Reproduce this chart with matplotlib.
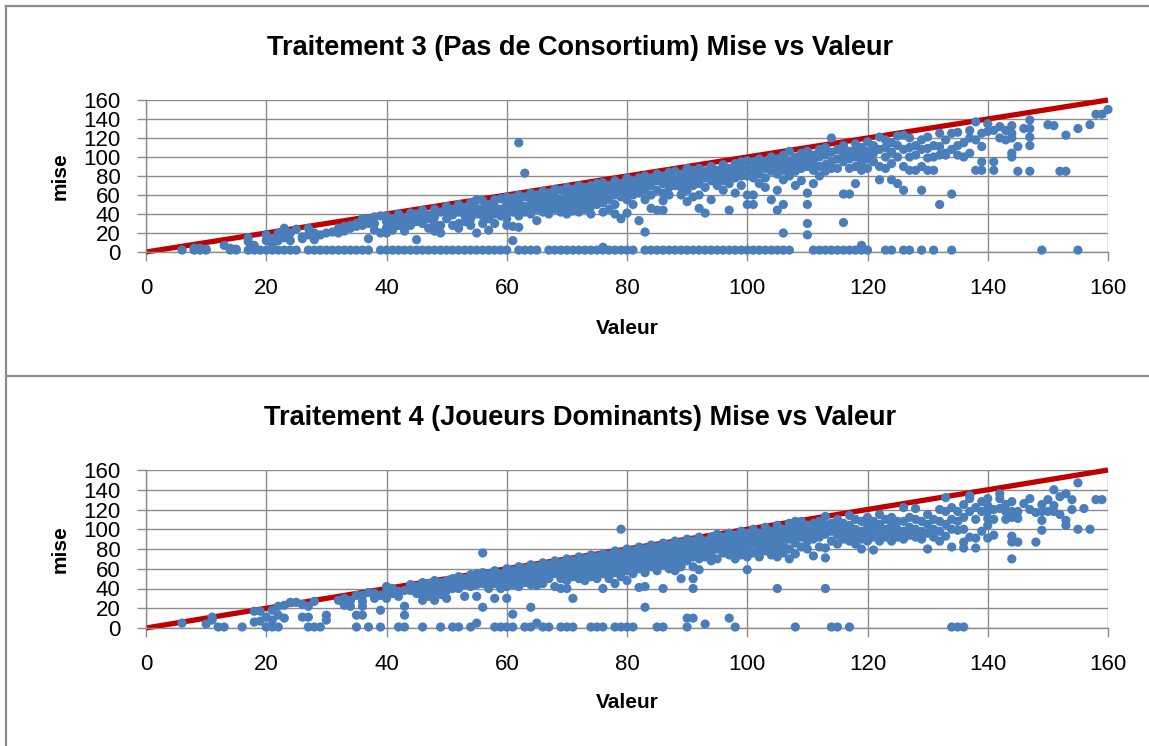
import matplotlib
matplotlib.use("Agg")
import matplotlib.pyplot as plt
from matplotlib.lines import Line2D

plt.rcParams['font.family'] = ['Liberation Sans', 'DejaVu Sans']

# ---------------- Traitement 3 (Pas de Consortium) ----------------
# valeurs where the bid (mise) was zero
t3_zero_valeur = [6, 8, 9, 10, 14, 15, 17, 18, 19, 20, 21, 22, 23, 24, 25, 27, 28, 29, 30,
                  31, 32, 33, 34, 35, 36, 37, 39, 40, 41, 42, 43, 44, 45, 46, 47, 48, 49,
                  50, 51, 52, 53, 54, 55, 56, 57, 58, 59, 60, 62, 63, 64, 65, 67, 68, 69,
                  70, 71, 72, 73, 74, 75, 76, 77, 78, 79, 80, 81, 83, 84, 85, 86, 87, 88,
                  89, 90, 91, 92, 93, 94, 95, 96, 97, 98, 99, 100, 101, 102, 103, 104, 105,
                  106, 107, 111, 112, 113, 114, 115, 116, 117, 118, 119, 120, 123, 124,
                  126, 127, 129, 131, 134, 149, 155]
t3_zero_mise = 2

# (valeur, mise) pairs
t3_low = [(8, 4), (9, 4), (10, 3), (13, 7), (14, 4), (15, 3), (17, 15), (17, 11), (18, 7),
          (20, 18), (20, 12), (21, 14), (21, 8), (22, 20), (22, 12), (23, 25), (23, 15),
          (24, 20), (24, 12), (25, 24), (26, 16), (26, 14), (27, 25), (27, 18), (28, 13),
          (28, 20), (29, 18), (30, 20), (31, 21), (32, 25), (32, 20), (33, 27), (33, 22),
          (34, 28), (34, 25), (35, 30), (35, 27), (36, 35), (36, 28), (37, 35), (37, 30),
          (37, 14), (38, 37), (38, 30), (38, 23), (39, 38), (39, 20), (40, 38), (40, 32),
          (40, 25), (40, 20), (41, 35), (41, 30), (41, 23), (42, 40), (42, 33), (42, 28),
          (43, 36), (43, 30), (43, 22), (44, 41), (44, 35), (44, 28), (45, 40), (45, 32),
          (45, 13), (46, 44), (46, 38), (46, 30), (47, 39), (47, 35), (47, 25), (48, 45),
          (48, 37), (48, 30), (48, 22), (49, 42), (49, 28), (49, 20), (50, 48), (50, 41),
          (50, 35), (51, 45), (51, 39), (51, 28), (52, 50), (52, 42), (52, 30), (52, 25),
          (53, 47), (53, 39), (53, 32), (54, 52), (54, 44), (54, 35), (54, 28), (55, 55),
          (55, 46), (55, 40), (55, 20), (56, 54), (56, 45), (56, 38), (56, 30), (57, 50),
          (57, 42), (57, 35), (57, 23), (58, 55), (58, 48), (58, 40), (58, 30), (59, 56),
          (59, 45), (59, 38)]

t3_mid = [(60, 58), (60, 50), (60, 44), (60, 35), (60, 28), (61, 57), (61, 50), (61, 42),
          (61, 27), (61, 12), (62, 115), (62, 60), (62, 52), (62, 45), (62, 38), (62, 26),
          (63, 83), (63, 58), (63, 48), (63, 42), (64, 62), (64, 55), (64, 48), (64, 40),
          (65, 60), (65, 52), (65, 45), (65, 33), (66, 64), (66, 55), (66, 50), (66, 42),
          (67, 62), (67, 56), (67, 48), (67, 40), (68, 66), (68, 58), (68, 50), (68, 45),
          (69, 65), (69, 55), (69, 48), (69, 42), (70, 68), (70, 60), (70, 52), (70, 45),
          (70, 40), (71, 66), (71, 58), (71, 50), (71, 43), (72, 70), (72, 62), (72, 55),
          (72, 48), (72, 42), (73, 68), (73, 60), (73, 52), (73, 45), (74, 70), (74, 63),
          (74, 55), (74, 48), (74, 40), (75, 72), (75, 65), (75, 58), (75, 50), (76, 73),
          (76, 66), (76, 60), (76, 52), (76, 42), (76, 5), (77, 70), (77, 62), (77, 55),
          (77, 45), (78, 75), (78, 68), (78, 60), (78, 50), (78, 40), (79, 72), (79, 65),
          (79, 58), (79, 35), (80, 78), (80, 70), (80, 62), (80, 55), (80, 41), (81, 75),
          (81, 68), (81, 60), (81, 50), (82, 78), (82, 70), (82, 62), (82, 33), (83, 80),
          (83, 72), (83, 65), (83, 55), (83, 21), (84, 78), (84, 70), (84, 60), (84, 46),
          (85, 82), (85, 75), (85, 65), (85, 44), (86, 80), (86, 72), (86, 62), (86, 54),
          (86, 44), (87, 84), (87, 76), (87, 68), (87, 60), (88, 85), (88, 78), (88, 70),
          (89, 82), (89, 75), (89, 68), (89, 60), (90, 88), (90, 80), (90, 72), (90, 65),
          (90, 53), (91, 86), (91, 78), (91, 70), (91, 58), (92, 88), (92, 80), (92, 72),
          (92, 60), (92, 46), (93, 85), (93, 78), (93, 68), (93, 41), (94, 90), (94, 82),
          (94, 75), (94, 55), (95, 86), (95, 78), (95, 70), (96, 92), (96, 84), (96, 75),
          (96, 65), (97, 88), (97, 80), (97, 72), (97, 44), (98, 93), (98, 85), (98, 78),
          (98, 62), (99, 95), (99, 88), (99, 80), (99, 70), (100, 96), (100, 88), (100, 80),
          (100, 60), (100, 50), (101, 95), (101, 86), (101, 78), (101, 60), (101, 50),
          (102, 98), (102, 90), (102, 82), (102, 72), (103, 95), (103, 88), (103, 78),
          (103, 68), (104, 100), (104, 92), (104, 85), (104, 55), (105, 98), (105, 90),
          (105, 82), (105, 65), (105, 44), (106, 102), (106, 94), (106, 86), (106, 76),
          (106, 50), (106, 20), (107, 106), (107, 96), (107, 88), (107, 80), (108, 100),
          (108, 92), (108, 85), (108, 70), (109, 104), (109, 96), (109, 88), (109, 75)]

t3_high = [(110, 106), (110, 98), (110, 90), (110, 62), (110, 50), (110, 30), (110, 18),
           (111, 102), (111, 94), (111, 86), (111, 72), (112, 108), (112, 100), (112, 90),
           (112, 80), (113, 110), (113, 102), (113, 92), (113, 85), (114, 120), (114, 105),
           (114, 95), (114, 88), (115, 108), (115, 98), (115, 88), (116, 112), (116, 104),
           (116, 95), (116, 61), (116, 31), (117, 106), (117, 98), (117, 88), (117, 61),
           (118, 114), (118, 108), (118, 100), (118, 90), (118, 72), (119, 110), (119, 102),
           (119, 94), (119, 86), (119, 7), (120, 116), (120, 106), (120, 98), (120, 88),
           (121, 112), (121, 104), (121, 95), (122, 121), (122, 108), (122, 90), (122, 76),
           (123, 118), (123, 110), (123, 100), (123, 88), (124, 115), (124, 105), (124, 93),
           (124, 76), (125, 122), (125, 112), (125, 100), (125, 72), (126, 123), (126, 108),
           (126, 90), (126, 65), (127, 120), (127, 110), (127, 100), (127, 86), (128, 112),
           (128, 102), (128, 86), (129, 118), (129, 108), (129, 90), (129, 65), (130, 121),
           (130, 109), (130, 99), (130, 86), (131, 112), (131, 100), (131, 86), (132, 125),
           (132, 111), (132, 102), (132, 50), (133, 118), (133, 104), (133, 102), (134, 125),
           (134, 108), (134, 61), (135, 126), (135, 112), (135, 102), (136, 115), (136, 100),
           (137, 128), (137, 120), (137, 104), (138, 137), (138, 118), (138, 86), (139, 125),
           (139, 111), (139, 95), (139, 86), (140, 135), (140, 127), (141, 128), (141, 95),
           (141, 86), (142, 132), (142, 120), (143, 128), (143, 118), (144, 133), (144, 125),
           (144, 120), (144, 104), (144, 100), (145, 111), (145, 85), (146, 130), (147, 139),
           (147, 130), (147, 121), (147, 112), (147, 85), (150, 134), (151, 133), (152, 85),
           (153, 123), (153, 85), (155, 130), (157, 134), (158, 145), (159, 145), (160, 150)]

# ---------------- Traitement 4 (Joueurs Dominants) ----------------
t4_zero_valeur = [12, 13, 16, 20, 21, 22, 27, 28, 29, 35, 37, 39, 42, 43, 46, 49, 51, 52,
                  54, 58, 59, 60, 61, 63, 64, 66, 67, 69, 70, 71, 74, 75, 76, 78, 79, 80,
                  81, 85, 86, 90, 98, 108, 114, 115, 117, 134, 135, 136]
t4_zero_mise = 1

t4_low = [(6, 5), (10, 4), (11, 11), (11, 8), (18, 17), (19, 17), (18, 6), (19, 7),
          (20, 11), (21, 8), (21, 18), (22, 22), (22, 13), (23, 23), (23, 10), (24, 26),
          (25, 26), (26, 24), (26, 11), (27, 22), (27, 11), (28, 27), (30, 13), (30, 8),
          (32, 28), (33, 30), (33, 23), (34, 28), (34, 22), (35, 13), (35, 33), (36, 13),
          (36, 27), (36, 22), (36, 33), (37, 36), (38, 30), (38, 35), (39, 33), (39, 18),
          (40, 42), (40, 37), (40, 30), (41, 40), (41, 35), (42, 37), (42, 32), (43, 38),
          (43, 22), (43, 13), (44, 44), (44, 38), (45, 42), (45, 35), (46, 46), (46, 40),
          (46, 33), (46, 28), (47, 45), (47, 40), (47, 32), (48, 48), (48, 42), (48, 36),
          (48, 28), (49, 46), (49, 40), (49, 34), (50, 48), (50, 44), (50, 38), (50, 30),
          (51, 50), (51, 45), (51, 40), (52, 52), (52, 46), (52, 40), (53, 50), (53, 44),
          (53, 32), (54, 54), (54, 48), (54, 42), (55, 55), (55, 50), (55, 44), (55, 32),
          (55, 5), (56, 76), (56, 56), (56, 50), (56, 45), (56, 21), (57, 55), (57, 48),
          (57, 40), (58, 58), (58, 52), (58, 45), (58, 30), (59, 55), (59, 48), (59, 40)]

t4_mid = [(60, 60), (60, 54), (60, 48), (60, 42), (60, 30), (61, 58), (61, 50), (61, 44),
          (61, 14), (62, 62), (62, 56), (62, 48), (62, 42), (63, 60), (63, 54), (63, 46),
          (64, 64), (64, 58), (64, 50), (64, 44), (64, 21), (65, 62), (65, 55), (65, 48),
          (65, 43), (65, 5), (66, 66), (66, 60), (66, 52), (66, 45), (67, 64), (67, 56),
          (67, 50), (68, 68), (68, 62), (68, 55), (68, 42), (69, 66), (69, 58), (69, 50),
          (69, 40), (70, 70), (70, 64), (70, 56), (70, 48), (70, 40), (71, 68), (71, 60),
          (71, 52), (71, 30), (72, 72), (72, 66), (72, 58), (72, 50), (73, 70), (73, 62),
          (73, 55), (73, 48), (74, 74), (74, 68), (74, 60), (74, 52), (75, 72), (75, 65),
          (75, 58), (75, 50), (76, 75), (76, 70), (76, 62), (76, 55), (76, 40), (77, 74),
          (77, 66), (77, 58), (77, 50), (78, 78), (78, 72), (78, 64), (78, 56), (78, 45),
          (79, 100), (79, 76), (79, 68), (79, 60), (79, 52), (80, 80), (80, 74), (80, 66),
          (80, 58), (80, 48), (81, 78), (81, 70), (81, 62), (81, 55), (82, 82), (82, 75),
          (82, 68), (82, 60), (82, 41), (83, 80), (83, 72), (83, 64), (83, 56), (83, 42),
          (83, 21), (84, 84), (84, 78), (84, 70), (84, 62), (85, 82), (85, 74), (85, 66),
          (85, 58), (86, 86), (86, 80), (86, 72), (86, 64), (86, 40), (87, 84), (87, 76),
          (87, 68), (87, 60), (88, 88), (88, 82), (88, 74), (88, 66), (88, 58), (89, 86),
          (89, 78), (89, 70), (89, 62), (89, 50), (90, 90), (90, 84), (90, 76), (90, 68),
          (90, 10), (91, 88), (91, 80), (91, 72), (91, 62), (91, 50), (91, 40), (91, 10),
          (92, 92), (92, 86), (92, 78), (92, 70), (92, 59), (93, 88), (93, 80), (93, 72),
          (93, 4), (94, 92), (94, 84), (94, 76), (94, 68), (95, 95), (95, 88), (95, 80),
          (95, 70), (96, 92), (96, 84), (96, 76), (97, 96), (97, 90), (97, 82), (97, 74),
          (97, 10), (98, 94), (98, 86), (98, 78), (98, 70), (99, 98), (99, 90), (99, 82),
          (99, 74), (100, 96), (100, 88), (100, 80), (100, 72), (100, 59), (101, 100),
          (101, 92), (101, 85), (101, 76), (102, 96), (102, 88), (102, 80), (102, 72),
          (103, 102), (103, 94), (103, 86), (103, 78), (104, 98), (104, 90), (104, 82),
          (104, 74), (105, 104), (105, 96), (105, 88), (105, 80), (105, 72), (105, 40),
          (106, 100), (106, 92), (106, 84), (106, 76), (107, 106), (107, 98), (107, 90),
          (107, 80), (107, 70), (108, 108), (108, 102), (108, 94), (108, 86), (108, 75),
          (109, 108), (109, 100), (109, 92), (109, 82)]

t4_high = [(110, 104), (110, 96), (110, 88), (110, 80), (111, 106), (111, 98), (111, 90),
           (111, 73), (112, 108), (112, 100), (112, 92), (112, 82), (113, 113), (113, 104),
           (113, 95), (113, 81), (113, 71), (113, 40), (114, 106), (114, 98), (114, 88),
           (115, 110), (115, 102), (115, 94), (115, 85), (116, 106), (116, 98), (116, 90),
           (117, 114), (117, 104), (117, 95), (117, 88), (118, 110), (118, 100), (118, 92),
           (118, 85), (119, 108), (119, 98), (119, 90), (119, 80), (120, 112), (120, 104),
           (120, 96), (120, 88), (121, 108), (121, 100), (121, 92), (121, 79), (122, 115),
           (122, 105), (122, 96), (122, 88), (123, 110), (123, 100), (123, 92), (124, 112),
           (124, 104), (124, 95), (124, 88), (125, 108), (125, 100), (125, 92), (126, 122),
           (126, 108), (126, 98), (126, 90), (127, 112), (127, 102), (127, 94), (128, 121),
           (128, 110), (128, 100), (128, 92), (129, 108), (129, 98), (129, 90), (130, 115),
           (130, 105), (130, 96), (130, 80), (131, 110), (131, 100), (131, 92), (132, 120),
           (132, 108), (132, 98), (132, 88), (133, 132), (133, 118), (133, 105), (133, 93),
           (134, 122), (134, 110), (134, 100), (134, 82), (135, 118), (135, 108), (135, 99),
           (136, 125), (136, 112), (136, 100), (136, 87), (136, 81), (137, 134), (137, 131),
           (137, 118), (137, 92), (138, 122), (138, 110), (138, 91), (138, 81), (139, 128),
           (139, 118), (139, 98), (140, 131), (140, 124), (140, 118), (140, 111), (140, 104),
           (140, 91), (141, 120), (141, 110), (141, 94), (142, 136), (142, 131), (142, 121),
           (143, 125), (143, 118), (143, 110), (144, 128), (144, 118), (144, 112), (144, 93),
           (144, 87), (144, 70), (145, 118), (145, 111), (145, 87), (146, 126), (147, 131),
           (147, 120), (148, 117), (148, 87), (149, 125), (149, 118), (149, 109), (149, 99),
           (150, 130), (150, 118), (151, 140), (151, 124), (151, 118), (152, 133), (152, 115),
           (153, 136), (153, 109), (153, 104), (154, 130), (154, 120), (155, 147), (155, 100),
           (156, 121), (157, 100), (158, 130), (159, 130)]

panels = [
    ("Traitement 3 (Pas de Consortium) Mise vs Valeur",
     t3_zero_valeur, t3_zero_mise, t3_low + t3_mid + t3_high),
    ("Traitement 4 (Joueurs Dominants) Mise vs Valeur",
     t4_zero_valeur, t4_zero_mise, t4_low + t4_mid + t4_high),
]

ticks = [0, 20, 40, 60, 80, 100, 120, 140, 160]

W, H = 1149, 746
fig = plt.figure(figsize=(W / 100, H / 100), dpi=100)

# axes boxes in pixel units: left, top, right, bottom
boxes = [(146, 100, 1108, 252), (146, 470, 1108, 628)]
title_y = [48, 418]
xlabel_y = [328, 703]

grey = '#8c8c8c'
blue = '#4a7ebb'
red = '#c00000'

for (title, zx, zy, pts), (l, t, r, b), ty, xy in zip(panels, boxes, title_y, xlabel_y):
    ax = fig.add_axes([l / W, 1 - b / H, (r - l) / W, (b - t) / H])
    ax.set_xlim(0, 160)
    ax.set_ylim(0, 160)
    ax.set_xticks(ticks)
    ax.set_yticks(ticks)
    ax.grid(True, color=grey, linewidth=1.0, zorder=0)
    ax.set_axisbelow(True)
    for side in ('top', 'right'):
        ax.spines[side].set_visible(False)
    for side in ('left', 'bottom'):
        ax.spines[side].set_color(grey)
        ax.spines[side].set_linewidth(1.0)
    ax.tick_params(axis='both', direction='out', length=6.5, width=1.0, color=grey,
                   labelsize=16, labelcolor='black')
    ax.tick_params(axis='x', pad=12)
    ax.tick_params(axis='y', pad=12)

    # diagonal mise = valeur
    ax.plot([0, 160], [0, 160], color=red, linewidth=3.8, solid_capstyle='butt',
            zorder=2, clip_on=False)

    vx = [p[0] for p in pts] + list(zx)
    vy = [p[1] for p in pts] + [zy] * len(zx)
    ax.scatter(vx, vy, s=44, color=blue, edgecolors='none', zorder=3, clip_on=False)

    cx = (l + r) / 2 / W
    fig.text(0.5052, 1 - ty / H, title, ha='center', va='center', fontsize=19.5,
             fontweight='bold')
    fig.text(cx, 1 - xy / H, "Valeur", ha='center', va='center', fontsize=15,
             fontweight='bold')
    fig.text(0.052, 1 - (t + b) / 2 / H, "mise", ha='center', va='center', fontsize=15,
             fontweight='bold', rotation=90)

# chart frames
lw = 1.6
fig.add_artist(Line2D([6 / W, 6 / W], [0, 1 - 6 / H], color=grey, linewidth=lw))
fig.add_artist(Line2D([6 / W, 1], [1 - 6 / H, 1 - 6 / H], color=grey, linewidth=lw))
fig.add_artist(Line2D([6 / W, 1], [1 - 376 / H, 1 - 376 / H], color=grey, linewidth=lw))

fig.savefig("out.png", dpi=100, facecolor='white')
